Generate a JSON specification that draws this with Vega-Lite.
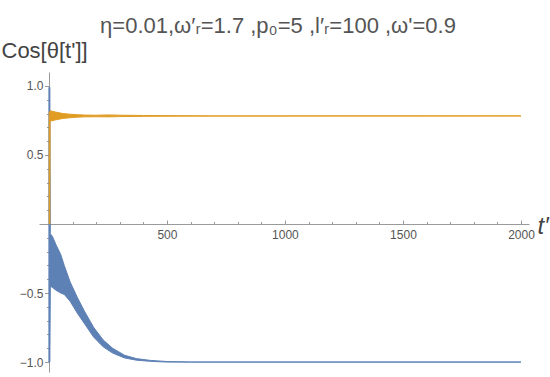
{
  "$schema": "https://vega.github.io/schema/vega-lite/v6.json",
  "width": 490,
  "height": 300,
  "autosize": {"type": "none"},
  "padding": {"left": 39, "top": 72, "right": 21, "bottom": 5},
  "background": "white",
  "title": {
    "text": "η=0.01,ω′ᵣ=1.7 ,p₀=5 ,l′ᵣ=100 ,ω'=0.9",
    "font": "Liberation Sans",
    "fontSize": 22,
    "fontWeight": "normal",
    "color": "#555555",
    "anchor": "middle",
    "dx": -6,
    "offset": 1
  },
  "config": {
    "view": {"stroke": null},
    "axis": {
      "labelFont": "Liberation Sans",
      "titleFont": "Liberation Sans",
      "domainColor": "#9a9a9a",
      "tickColor": "#9a9a9a",
      "labelColor": "#555555",
      "titleColor": "#444444",
      "grid": false,
      "labelFontSize": 12
    }
  },
  "datasets": {
    "blue": [
      {"t": 0, "lo": -1.0, "hi": 0.99},
      {"t": 4, "lo": -1.0, "hi": 0.99},
      {"t": 6, "lo": -0.45, "hi": -0.07},
      {"t": 15, "lo": -0.46, "hi": -0.09},
      {"t": 30, "lo": -0.48, "hi": -0.15},
      {"t": 50, "lo": -0.5, "hi": -0.22},
      {"t": 65, "lo": -0.51, "hi": -0.3},
      {"t": 90, "lo": -0.56, "hi": -0.42},
      {"t": 120, "lo": -0.645, "hi": -0.53},
      {"t": 150, "lo": -0.72, "hi": -0.63},
      {"t": 190, "lo": -0.82, "hi": -0.75},
      {"t": 230, "lo": -0.89, "hi": -0.84},
      {"t": 270, "lo": -0.935, "hi": -0.9},
      {"t": 320, "lo": -0.97, "hi": -0.95},
      {"t": 370, "lo": -0.986, "hi": -0.975},
      {"t": 430, "lo": -0.995, "hi": -0.988},
      {"t": 500, "lo": -1.0, "hi": -0.996},
      {"t": 600, "lo": -1.0, "hi": -1.0},
      {"t": 2000, "lo": -1.0, "hi": -1.0}
    ],
    "orange": [
      {"t": 1, "lo": 0.0, "hi": 0.81},
      {"t": 4, "lo": 0.0, "hi": 0.81},
      {"t": 5, "lo": 0.745, "hi": 0.82},
      {"t": 30, "lo": 0.755, "hi": 0.81},
      {"t": 60, "lo": 0.765, "hi": 0.8},
      {"t": 90, "lo": 0.77, "hi": 0.795},
      {"t": 120, "lo": 0.774, "hi": 0.792},
      {"t": 150, "lo": 0.776, "hi": 0.789},
      {"t": 200, "lo": 0.777, "hi": 0.788},
      {"t": 250, "lo": 0.776, "hi": 0.79},
      {"t": 300, "lo": 0.778, "hi": 0.788},
      {"t": 400, "lo": 0.78, "hi": 0.786},
      {"t": 500, "lo": 0.781, "hi": 0.785},
      {"t": 700, "lo": 0.782, "hi": 0.783},
      {"t": 2000, "lo": 0.783, "hi": 0.783}
    ]
  },
  "layer": [
    {
      "data": {"name": "blue"},
      "mark": {"type": "area", "color": "#5E81B5", "stroke": "#5E81B5", "strokeWidth": 1, "fillOpacity": 1},
      "encoding": {
        "x": {
          "field": "t", "type": "quantitative",
          "scale": {"domain": [-42, 2034], "nice": false, "zero": false},
          "axis": {
            "orient": "bottom", "offset": -148,
            "values": [500, 1000, 1500, 2000],
            "format": "d",
            "ticks": false, "labelPadding": 5, "labelFlush": false,
            "domainWidth": 1,
            "title": "t′", "titleX": 498, "titleY": 9,
            "titleFontSize": 24, "titleFontStyle": "italic", "titleFontWeight": "normal",
            "titleAlign": "left", "titleBaseline": "alphabetic", "titleAngle": 0
          }
        },
        "y": {
          "field": "hi", "type": "quantitative",
          "scale": {"domain": [-1.072, 1.101], "nice": false, "zero": false},
          "axis": {
            "orient": "left", "offset": -10,
            "values": [-1, -0.9, -0.8, -0.7, -0.6, -0.5, -0.4, -0.3, -0.2, -0.1, 0.1, 0.2, 0.3, 0.4, 0.5, 0.6, 0.7, 0.8, 0.9, 1],
            "tickSize": {"condition": {"test": "abs(datum.value) == 0.5 || abs(datum.value) == 1", "value": 4.5}, "value": 2.5},
            "labelExpr": "(abs(datum.value) == 0.5 || abs(datum.value) == 1) ? format(datum.value, '.1f') : ''",
            "labelPadding": 1.5,
            "domainWidth": 1,
            "title": "Cos[θ[t']]", "titleAngle": 0, "titleX": -48, "titleY": -15,
            "titleAlign": "left", "titleBaseline": "alphabetic",
            "titleFontSize": 22, "titleFontWeight": "normal"
          }
        },
        "y2": {"field": "lo"}
      }
    },
    {
      "data": {"name": "orange"},
      "mark": {"type": "area", "color": "#E19C24", "stroke": "#E19C24", "strokeWidth": 1, "fillOpacity": 1},
      "encoding": {
        "x": {
          "field": "t", "type": "quantitative",
          "scale": {"domain": [-42, 2034], "nice": false, "zero": false},
          "axis": {
            "orient": "top", "offset": -152,
            "values": [100, 200, 300, 400, 500, 600, 700, 800, 900, 1000, 1100, 1200, 1300, 1400, 1500, 1600, 1700, 1800, 1900, 2000],
            "labels": false, "domain": false,
            "tickSize": {"condition": {"test": "datum.value % 500 == 0", "value": 4}, "value": 2.5},
            "title": null
          }
        },
        "y": {"field": "hi", "type": "quantitative", "axis": null},
        "y2": {"field": "lo"}
      }
    }
  ],
  "resolve": {"axis": {"x": "independent", "y": "independent"}}
}
